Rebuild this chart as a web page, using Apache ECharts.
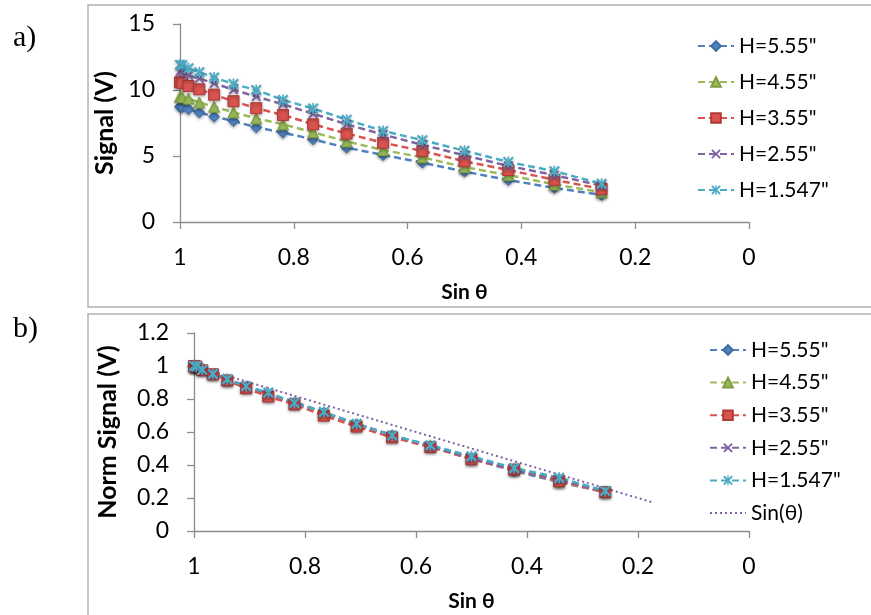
<!DOCTYPE html>
<html><head><meta charset="utf-8">
<script src="https://cdn.jsdelivr.net/npm/echarts@6/dist/echarts.min.js"></script>
<style>html,body{margin:0;padding:0;background:#fff}#c{width:871px;height:615px}</style>
</head><body><div id="c"></div>
<script>
// ---- data ----
const sinTheta = [1.000, 0.996, 0.985, 0.966, 0.940, 0.906, 0.866, 0.819, 0.766, 0.707, 0.643, 0.574, 0.500, 0.423, 0.342, 0.259];
const seriesNames = ['H=5.55"', 'H=4.55"', 'H=3.55"', 'H=2.55"', 'H=1.547"'];
// a) raw signal (V)
const sigH555  = [8.73, 8.70, 8.54, 8.30, 7.98, 7.65, 7.17, 6.77, 6.26, 5.63, 5.08, 4.50, 3.82, 3.18, 2.58, 2.05];
const sigH455  = [9.49, 9.45, 9.35, 9.05, 8.73, 8.31, 7.85, 7.40, 6.80, 6.10, 5.45, 4.90, 4.15, 3.56, 2.85, 2.25];
const sigH355  = [10.58, 10.55, 10.30, 10.05, 9.65, 9.15, 8.62, 8.11, 7.40, 6.70, 6.00, 5.38, 4.60, 3.94, 3.20, 2.50];
const sigH255  = [11.40, 11.35, 11.10, 10.88, 10.50, 10.02, 9.50, 8.92, 8.20, 7.40, 6.62, 5.85, 5.05, 4.25, 3.55, 2.75];
const sigH1547 = [11.92, 11.88, 11.65, 11.35, 10.95, 10.45, 10.00, 9.25, 8.60, 7.75, 6.90, 6.20, 5.40, 4.55, 3.85, 2.90];
// b) normalised signal
const normH555  = [1.000, 0.996, 0.979, 0.952, 0.915, 0.874, 0.823, 0.773, 0.715, 0.646, 0.581, 0.514, 0.437, 0.364, 0.296, 0.235];
const normH455  = [1.000, 0.996, 0.985, 0.954, 0.920, 0.876, 0.827, 0.780, 0.717, 0.643, 0.574, 0.516, 0.437, 0.375, 0.300, 0.237];
const normH355  = [1.000, 0.997, 0.974, 0.950, 0.912, 0.865, 0.815, 0.767, 0.699, 0.633, 0.567, 0.509, 0.435, 0.372, 0.302, 0.236];
const normH255  = [1.000, 0.996, 0.974, 0.954, 0.921, 0.879, 0.833, 0.782, 0.719, 0.649, 0.581, 0.513, 0.443, 0.373, 0.311, 0.241];
const normH1547 = [1.000, 0.997, 0.977, 0.952, 0.919, 0.877, 0.839, 0.776, 0.721, 0.650, 0.579, 0.520, 0.453, 0.382, 0.323, 0.243];
// Sin(theta) reference line
const sinLineX = [1.000, 0.985, 0.966, 0.940, 0.906, 0.866, 0.819, 0.766, 0.707, 0.643, 0.574, 0.500, 0.423, 0.342, 0.259, 0.174];
const sinLineY = [1.000, 0.985, 0.966, 0.940, 0.906, 0.866, 0.819, 0.766, 0.707, 0.643, 0.574, 0.500, 0.423, 0.342, 0.259, 0.174];
// axis ticks
const xTicks = {min: 0, max: 1, interval: 0.2};
const yTicksA = {min: 0, max: 15, interval: 5};
const yTicksB = {min: 0, max: 1.2, interval: 0.2};

// ---- styling ----
const FONT = 'Lato, "Open Sans", "DejaVu Sans", sans-serif';
const AXIS_GRAY = '#8c8c8c';
const colors = ['#4F81BD', '#9BBB59', '#D9534F', '#8064A2', '#4BACC6'];
const borders = ['#3F6DA3', '#7E9D40', '#B03A37', '#6C5390', '#3A95AE'];
const X_PATH = 'path://M0,1.4L1.4,0L5,3.6L8.6,0L10,1.4L6.4,5L10,8.6L8.6,10L5,6.4L1.4,10L0,8.6L3.6,5Z';
const STAR_PATH = 'path://M0,1.4L1.4,0L5,3.6L8.6,0L10,1.4L6.4,5L10,8.6L8.6,10L5,6.4L1.4,10L0,8.6L3.6,5Z M4.3,0L5.7,0L5.7,10L4.3,10Z';
const symbols = ['diamond', 'triangle', 'rect', X_PATH, STAR_PATH];
const symbolSizes = [11, 11, 11, 10, 11];

function pairs(xs, ys) { return xs.map((x, i) => [x, ys[i]]); }

const rawSets = [sigH555, sigH455, sigH355, sigH255, sigH1547];
const normSets = [normH555, normH455, normH355, normH255, normH1547];

function makeSeries(sets, gi) {
  return sets.map((ys, k) => ({
    name: seriesNames[k],
    type: 'line',
    xAxisIndex: gi, yAxisIndex: gi,
    data: pairs(sinTheta, ys),
    symbol: symbols[k],
    symbolSize: symbolSizes[k],
    showAllSymbol: true,
    lineStyle: {color: colors[k], width: 2.5, type: [7, 4]},
    itemStyle: {color: colors[k], borderColor: borders[k], borderWidth: (k >= 3 ? 0 : 1),
      shadowBlur: 3, shadowColor: 'rgba(0,0,0,0.3)', shadowOffsetY: 1.5},
    emphasis: {disabled: true},
    animation: false
  }));
}

function axisX(gi) {
  return {
    gridIndex: gi, type: 'value', inverse: true,
    min: xTicks.min, max: xTicks.max, interval: xTicks.interval,
    name: 'Sin θ', nameLocation: 'middle', nameGap: 60,
    nameTextStyle: {fontFamily: FONT, fontWeight: 'bold', fontSize: 21, color: '#000'},
    axisLine: {show: true, onZero: false, lineStyle: {color: AXIS_GRAY, width: 1.3}},
    axisTick: {show: true, length: 7, lineStyle: {color: AXIS_GRAY, width: 1.3}},
    axisLabel: {fontFamily: FONT, fontSize: 23, color: '#000', margin: 24},
    splitLine: {show: false}
  };
}
function axisY(gi, t, name, gap) {
  return {
    gridIndex: gi, type: 'value', min: t.min, max: t.max, interval: t.interval,
    name: name, nameLocation: 'middle', nameRotate: 90, nameGap: gap,
    nameTextStyle: {fontFamily: FONT, fontWeight: 'bold', fontSize: 25, color: '#000'},
    axisLine: {show: true, onZero: false, lineStyle: {color: AXIS_GRAY, width: 1.3}},
    axisTick: {show: true, length: 7, lineStyle: {color: AXIS_GRAY, width: 1.3}},
    axisLabel: {fontFamily: FONT, fontSize: 23, color: '#000', margin: 25},
    splitLine: {show: false}
  };
}

const legendCommon = {
  orient: 'vertical', itemWidth: 36, itemHeight: 12,
  textStyle: {fontFamily: FONT, fontSize: 21, color: '#000', lineHeight: 22},
  selectedMode: false
};

const chart = echarts.init(document.getElementById('c'), null, {renderer: 'canvas'});
chart.setOption({
  animation: false,
  backgroundColor: '#fff',
  grid: [
    {left: 180, right: 122, top: 24, bottom: 393},
    {left: 194, right: 122, top: 333, bottom: 84}
  ],
  xAxis: [axisX(0), axisX(1)],
  yAxis: [axisY(0, yTicksA, 'Signal (V)', 50), axisY(1, yTicksB, 'Norm Signal (V)', 74)],
  legend: [
    Object.assign({}, legendCommon, {left: 692, top: 30, itemGap: 14, data: seriesNames}),
    Object.assign({}, legendCommon, {left: 704, top: 334, itemGap: 10.6, data: seriesNames.concat(['Sin(θ)'])})
  ],
  graphic: [
    {type: 'rect', z: -10, shape: {x: 88, y: 5, width: 800, height: 302}, style: {fill: 'none', stroke: '#b3b3b3', lineWidth: 1.5}},
    {type: 'rect', z: -10, shape: {x: 88, y: 314, width: 800, height: 330}, style: {fill: 'none', stroke: '#b3b3b3', lineWidth: 1.5}},
    {type: 'text', left: 13, top: 23, style: {text: 'a)', font: '30px "Liberation Serif", serif', fill: '#000'}},
    {type: 'text', left: 13, top: 314, style: {text: 'b)', font: '30px "Liberation Serif", serif', fill: '#000'}}
  ],
  series: makeSeries(rawSets, 0).concat(makeSeries(normSets, 1)).concat([{
    name: 'Sin(θ)', type: 'line', xAxisIndex: 1, yAxisIndex: 1,
    data: pairs(sinLineX, sinLineY), symbol: 'rect', symbolSize: 1, showSymbol: false,
    lineStyle: {color: '#7F62A1', width: 2, type: [2, 3]},
    itemStyle: {color: 'rgba(0,0,0,0)', borderWidth: 0},
    emphasis: {disabled: true}, z: 1
  }])
});
</script>
</body></html>
